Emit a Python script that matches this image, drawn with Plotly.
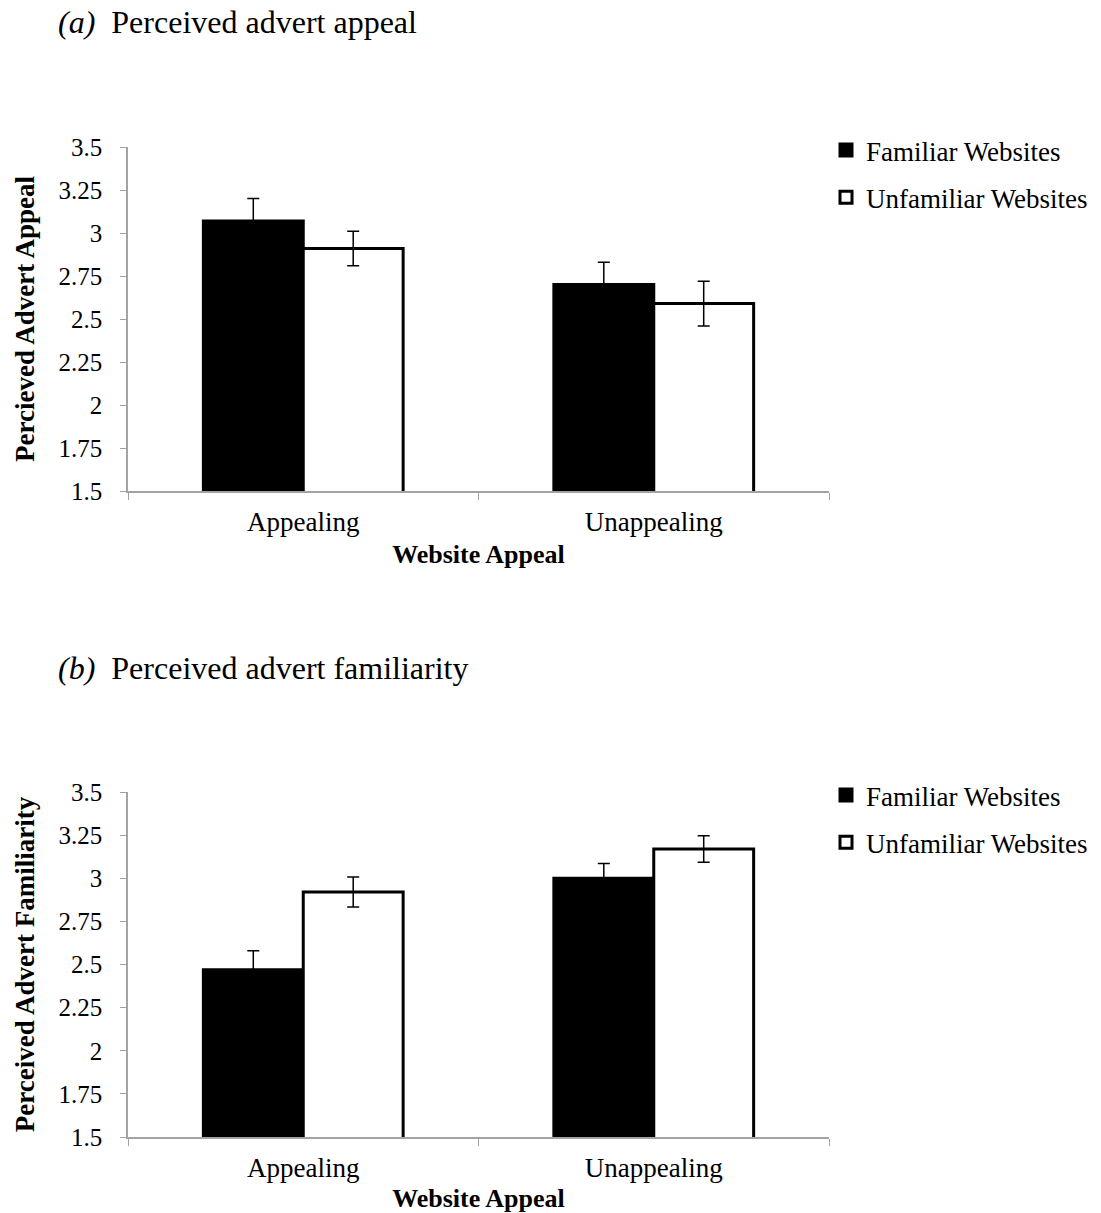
import plotly.graph_objects as go

# Data
categories = ["Appealing", "Unappealing"]
series_names = ["Familiar Websites", "Unfamiliar Websites"]

appeal_familiar = [3.07, 2.70]
appeal_familiar_err = [0.13, 0.13]
appeal_unfamiliar = [2.91, 2.59]
appeal_unfamiliar_err = [0.10, 0.13]

famil_familiar = [2.47, 3.00]
famil_familiar_err = [0.11, 0.085]
famil_unfamiliar = [2.92, 3.17]
famil_unfamiliar_err = [0.087, 0.077]

tick_vals = [1.5, 1.75, 2, 2.25, 2.5, 2.75, 3, 3.25, 3.5]
tick_text = ["1.5", "1.75", "2", "2.25", "2.5", "2.75", "3", "3.25", "3.5"]

FONT = "Liberation Serif, Times New Roman, serif"
AXIS_GREY = "#a3a3a3"
W, H = 1101, 1213

fig = go.Figure()


def add_pair(fam, fam_err, unf, unf_err, xa, ya, legend):
    fig.add_trace(go.Bar(
        x=categories, y=fam, name=series_names[0],
        marker=dict(color="black", line=dict(color="black", width=3)),
        error_y=dict(type="data", array=fam_err, color="black", thickness=1.5, width=6),
        xaxis=xa, yaxis=ya, legend=legend, legendgroup=legend + "f",
    ))
    fig.add_trace(go.Bar(
        x=categories, y=unf, name=series_names[1],
        marker=dict(color="white", line=dict(color="black", width=3)),
        error_y=dict(type="data", array=unf_err, color="black", thickness=1.5, width=6),
        xaxis=xa, yaxis=ya, legend=legend, legendgroup=legend + "u",
    ))


add_pair(appeal_familiar, appeal_familiar_err, appeal_unfamiliar, appeal_unfamiliar_err,
         "x", "y", "legend")
add_pair(famil_familiar, famil_familiar_err, famil_unfamiliar, famil_unfamiliar_err,
         "x2", "y2", "legend2")

x_dom = [128 / W, 829 / W]
top_dom = [1 - 491 / H, 1 - 147 / H]
bot_dom = [1 - 1137 / H, 1 - 792 / H]

xaxis_style = dict(
    domain=x_dom, showline=True, linecolor=AXIS_GREY, linewidth=1.5,
    ticks="outside", tickson="boundaries", ticklen=7, tickcolor=AXIS_GREY,
    tickfont=dict(family=FONT, size=27, color="black"),
    showgrid=False, zeroline=False, ticklabelstandoff=6, automargin=False,
)
yaxis_style = dict(
    range=[1.5, 3.5], tickvals=tick_vals, ticktext=tick_text,
    showline=True, linecolor=AXIS_GREY, linewidth=1.5,
    ticks="outside", ticklen=6, tickcolor=AXIS_GREY,
    tickfont=dict(family=FONT, size=25, color="black"),
    showgrid=False, zeroline=False, ticklabelstandoff=13, automargin=False,
)
xtitle = dict(text="<b>Website Appeal</b>", font=dict(family=FONT, size=26), standoff=9)

fig.update_layout(
    width=W, height=H,
    margin=dict(l=0, r=0, t=0, b=0, autoexpand=False),
    paper_bgcolor="white", plot_bgcolor="white",
    barmode="group", bargap=0.43, bargroupgap=0,
    showlegend=True,
    font=dict(family=FONT, color="black"),
    xaxis=dict(**xaxis_style, anchor="y", title=xtitle),
    yaxis=dict(**yaxis_style, domain=top_dom, anchor="x",
               title=dict(text="<b>Percieved Advert Appeal</b>", font=dict(family=FONT, size=27), standoff=16)),
    xaxis2=dict(**xaxis_style, anchor="y2", title=xtitle),
    yaxis2=dict(**yaxis_style, domain=bot_dom, anchor="x2",
                title=dict(text="<b>Perceived Advert Familiarity</b>", font=dict(family=FONT, size=27), standoff=16)),
    legend=dict(x=826 / W, y=1 - 126 / H, xanchor="left", yanchor="top",
                font=dict(family=FONT, size=27, color="black"),
                traceorder="grouped", tracegroupgap=9, bgcolor="rgba(0,0,0,0)"),
    legend2=dict(x=826 / W, y=1 - 771 / H, xanchor="left", yanchor="top",
                 font=dict(family=FONT, size=27, color="black"),
                 traceorder="grouped", tracegroupgap=9, bgcolor="rgba(0,0,0,0)"),
)

fig.add_annotation(
    text="<i>(a)</i>  Perceived advert appeal", xref="paper", yref="paper",
    x=56 / W, y=1 - 22 / H, xanchor="left", yanchor="middle", showarrow=False,
    font=dict(family=FONT, size=32, color="black"),
)
fig.add_annotation(
    text="<i>(b)</i>  Perceived advert familiarity", xref="paper", yref="paper",
    x=56 / W, y=1 - 668 / H, xanchor="left", yanchor="middle", showarrow=False,
    font=dict(family=FONT, size=32, color="black"),
)

fig.write_html("out.html")
